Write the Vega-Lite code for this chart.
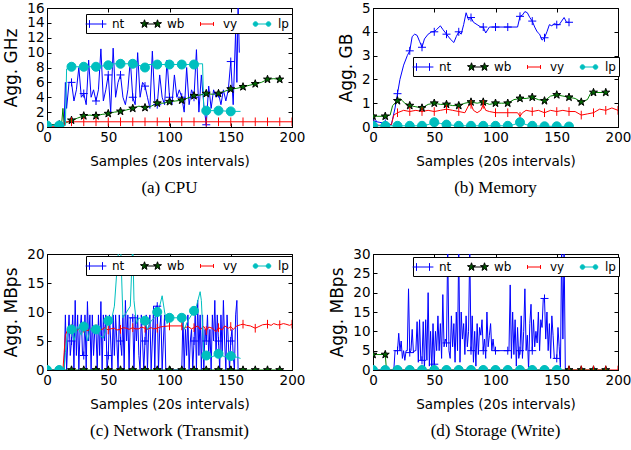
{
"$schema":"https://vega.github.io/schema/vega-lite/v6.json",
"padding":{"left":2,"top":0,"right":0,"bottom":5},
"background":"white",
"config":{
 "font":"DejaVu Sans",
 "view":{"stroke":"black","strokeWidth":1},
 "axis":{"labelFont":"DejaVu Sans","labelFontSize":13.5,"titleFont":"DejaVu Sans","titleFontSize":13.5,"titleFontWeight":"normal","labelColor":"#000","titleColor":"#000","domainColor":"#000","tickColor":"#000","tickSize":-4,"labelPadding":7,"grid":false,"labelFlush":false,"labelOverlap":false},
 "axisX":{"titlePadding":11},
 "axisY":{"titlePadding":6,"titleFontSize":17},
 "title":{"font":"Liberation Serif","fontSize":17,"fontWeight":"normal","color":"#000","orient":"bottom","offset":12,"anchor":"middle"},
 "legend":{"orient":"none","direction":"horizontal","columns":4,"strokeColor":"black","fillColor":"white","padding":3,"labelFont":"DejaVu Sans","labelFontSize":12,"labelColor":"#000","symbolSize":169,"symbolStrokeWidth":1,"labelOffset":9,"columnPadding":13,"title":null}
},
"datasets":{
"cpu":[
{"s":"nt","x":0,"y":0.3},{"s":"nt","x":5,"y":0.3},{"s":"nt","x":10,"y":0.3},{"s":"nt","x":14,"y":0.3},{"s":"nt","x":15,"y":6},{"s":"nt","x":16,"y":2.5},{"s":"nt","x":18,"y":6},{"s":"nt","x":20,"y":6},{"s":"nt","x":22,"y":3.5},{"s":"nt","x":24,"y":5},{"s":"nt","x":26,"y":8},{"s":"nt","x":28,"y":4},{"s":"nt","x":30,"y":4.5},{"s":"nt","x":32,"y":3},{"s":"nt","x":34,"y":9},{"s":"nt","x":36,"y":4},{"s":"nt","x":38,"y":5},{"s":"nt","x":40,"y":3.5},{"s":"nt","x":42,"y":5},{"s":"nt","x":44,"y":10.5},{"s":"nt","x":46,"y":3.5},{"s":"nt","x":48,"y":5},{"s":"nt","x":50,"y":7},{"s":"nt","x":52,"y":2},{"s":"nt","x":54,"y":10.6},{"s":"nt","x":56,"y":4},{"s":"nt","x":58,"y":6},{"s":"nt","x":60,"y":7},{"s":"nt","x":62,"y":4},{"s":"nt","x":64,"y":3},{"s":"nt","x":66,"y":5},{"s":"nt","x":68,"y":9},{"s":"nt","x":70,"y":4},{"s":"nt","x":72,"y":3},{"s":"nt","x":74,"y":10},{"s":"nt","x":76,"y":4},{"s":"nt","x":78,"y":6},{"s":"nt","x":80,"y":5.5},{"s":"nt","x":82,"y":4},{"s":"nt","x":84,"y":2.5},{"s":"nt","x":86,"y":10.2},{"s":"nt","x":88,"y":3.5},{"s":"nt","x":90,"y":3},{"s":"nt","x":92,"y":7},{"s":"nt","x":94,"y":4},{"s":"nt","x":96,"y":3},{"s":"nt","x":98,"y":9},{"s":"nt","x":100,"y":4},{"s":"nt","x":102,"y":3},{"s":"nt","x":104,"y":7},{"s":"nt","x":106,"y":4},{"s":"nt","x":108,"y":5},{"s":"nt","x":110,"y":4},{"s":"nt","x":112,"y":2},{"s":"nt","x":114,"y":8},{"s":"nt","x":116,"y":3},{"s":"nt","x":118,"y":5},{"s":"nt","x":120,"y":4},{"s":"nt","x":122,"y":10.4},{"s":"nt","x":124,"y":2},{"s":"nt","x":126,"y":7},{"s":"nt","x":128,"y":3},{"s":"nt","x":130,"y":0.3},{"s":"nt","x":132,"y":5.5},{"s":"nt","x":134,"y":2.5},{"s":"nt","x":136,"y":5},{"s":"nt","x":138,"y":4},{"s":"nt","x":140,"y":4.5},{"s":"nt","x":142,"y":3},{"s":"nt","x":144,"y":5},{"s":"nt","x":146,"y":3.5},{"s":"nt","x":148,"y":5},{"s":"nt","x":150,"y":8.8},{"s":"nt","x":152,"y":3},{"s":"nt","x":154,"y":13},{"s":"nt","x":155,"y":6},{"s":"nt","x":156,"y":16.5},{"s":"nt","x":157,"y":10},
{"s":"wb","x":0,"y":0.3},{"s":"wb","x":5,"y":0.3},{"s":"wb","x":10,"y":0.3},{"s":"wb","x":12,"y":0.5},{"s":"wb","x":13,"y":2.5},{"s":"wb","x":14,"y":0.4},{"s":"wb","x":16,"y":0.6},{"s":"wb","x":20,"y":0.9},{"s":"wb","x":25,"y":1.2},{"s":"wb","x":30,"y":1.5},{"s":"wb","x":35,"y":1.6},{"s":"wb","x":40,"y":1.5},{"s":"wb","x":45,"y":1.7},{"s":"wb","x":50,"y":1.8},{"s":"wb","x":55,"y":2.0},{"s":"wb","x":60,"y":2.1},{"s":"wb","x":65,"y":2.3},{"s":"wb","x":70,"y":2.5},{"s":"wb","x":75,"y":2.8},{"s":"wb","x":80,"y":2.6},{"s":"wb","x":85,"y":2.8},{"s":"wb","x":90,"y":3.2},{"s":"wb","x":95,"y":3.2},{"s":"wb","x":100,"y":3.4},{"s":"wb","x":105,"y":3.5},{"s":"wb","x":110,"y":3.6},{"s":"wb","x":115,"y":3.9},{"s":"wb","x":120,"y":4.2},{"s":"wb","x":125,"y":4.3},{"s":"wb","x":130,"y":4.5},{"s":"wb","x":135,"y":4.4},{"s":"wb","x":140,"y":4.5},{"s":"wb","x":145,"y":4.8},{"s":"wb","x":150,"y":5.1},{"s":"wb","x":155,"y":5.2},{"s":"wb","x":160,"y":5.4},{"s":"wb","x":165,"y":5.6},{"s":"wb","x":170,"y":5.8},{"s":"wb","x":175,"y":6.0},{"s":"wb","x":180,"y":6.4},{"s":"wb","x":185,"y":6.5},{"s":"wb","x":190,"y":6.4},
{"s":"vy","x":0,"y":0.1},{"s":"vy","x":10,"y":0.1},{"s":"vy","x":14,"y":0.1},{"s":"vy","x":15,"y":0.7},{"s":"vy","x":20,"y":0.7},{"s":"vy","x":30,"y":0.7},{"s":"vy","x":40,"y":0.7},{"s":"vy","x":50,"y":0.7},{"s":"vy","x":60,"y":0.7},{"s":"vy","x":70,"y":0.7},{"s":"vy","x":80,"y":0.7},{"s":"vy","x":90,"y":0.7},{"s":"vy","x":100,"y":0.7},{"s":"vy","x":110,"y":0.7},{"s":"vy","x":120,"y":0.7},{"s":"vy","x":130,"y":0.7},{"s":"vy","x":140,"y":0.7},{"s":"vy","x":150,"y":0.7},{"s":"vy","x":160,"y":0.7},{"s":"vy","x":170,"y":0.7},{"s":"vy","x":180,"y":0.7},{"s":"vy","x":190,"y":0.7},{"s":"vy","x":200,"y":0.7},
{"s":"lp","x":0,"y":0.2},{"s":"lp","x":10,"y":0.2},{"s":"lp","x":15,"y":0.2},{"s":"lp","x":16,"y":7.8},{"s":"lp","x":20,"y":8.1},{"s":"lp","x":30,"y":8.1},{"s":"lp","x":40,"y":8.1},{"s":"lp","x":50,"y":8.3},{"s":"lp","x":55,"y":8.5},{"s":"lp","x":60,"y":8.5},{"s":"lp","x":70,"y":8.5},{"s":"lp","x":75,"y":8.3},{"s":"lp","x":80,"y":8.0},{"s":"lp","x":82,"y":8.4},{"s":"lp","x":90,"y":8.4},{"s":"lp","x":100,"y":8.4},{"s":"lp","x":110,"y":8.4},{"s":"lp","x":120,"y":8.4},{"s":"lp","x":125,"y":8.5},{"s":"lp","x":127,"y":8.5},{"s":"lp","x":128,"y":2.1},{"s":"lp","x":130,"y":2.2},{"s":"lp","x":140,"y":2.2},{"s":"lp","x":150,"y":2.1},{"s":"lp","x":158,"y":2.1}
],
"mem":[
{"s":"nt","x":0,"y":0.25},{"s":"nt","x":5,"y":0.2},{"s":"nt","x":10,"y":0.15},{"s":"nt","x":15,"y":0.1},{"s":"nt","x":18,"y":0.8},{"s":"nt","x":20,"y":1.4},{"s":"nt","x":22,"y":2.0},{"s":"nt","x":25,"y":2.6},{"s":"nt","x":28,"y":3.0},{"s":"nt","x":30,"y":3.2},{"s":"nt","x":32,"y":3.8},{"s":"nt","x":34,"y":3.9},{"s":"nt","x":36,"y":3.85},{"s":"nt","x":38,"y":3.6},{"s":"nt","x":40,"y":3.35},{"s":"nt","x":42,"y":3.7},{"s":"nt","x":45,"y":3.9},{"s":"nt","x":48,"y":4.0},{"s":"nt","x":50,"y":4.0},{"s":"nt","x":52,"y":4.1},{"s":"nt","x":55,"y":4.25},{"s":"nt","x":57,"y":4.1},{"s":"nt","x":60,"y":3.9},{"s":"nt","x":63,"y":3.7},{"s":"nt","x":66,"y":3.55},{"s":"nt","x":68,"y":3.8},{"s":"nt","x":70,"y":4.0},{"s":"nt","x":72,"y":3.9},{"s":"nt","x":74,"y":4.3},{"s":"nt","x":76,"y":4.8},{"s":"nt","x":78,"y":4.5},{"s":"nt","x":80,"y":4.6},{"s":"nt","x":82,"y":4.4},{"s":"nt","x":85,"y":4.3},{"s":"nt","x":88,"y":4.2},{"s":"nt","x":90,"y":4.2},{"s":"nt","x":92,"y":3.95},{"s":"nt","x":95,"y":4.2},{"s":"nt","x":100,"y":4.2},{"s":"nt","x":110,"y":4.2},{"s":"nt","x":118,"y":4.2},{"s":"nt","x":120,"y":4.65},{"s":"nt","x":122,"y":4.7},{"s":"nt","x":124,"y":4.85},{"s":"nt","x":126,"y":4.8},{"s":"nt","x":128,"y":4.6},{"s":"nt","x":130,"y":4.45},{"s":"nt","x":132,"y":4.2},{"s":"nt","x":134,"y":4.0},{"s":"nt","x":136,"y":3.9},{"s":"nt","x":138,"y":3.65},{"s":"nt","x":140,"y":3.75},{"s":"nt","x":142,"y":4.0},{"s":"nt","x":144,"y":4.3},{"s":"nt","x":146,"y":4.25},{"s":"nt","x":148,"y":4.35},{"s":"nt","x":150,"y":4.3},{"s":"nt","x":152,"y":4.3},{"s":"nt","x":154,"y":4.45},{"s":"nt","x":156,"y":4.6},{"s":"nt","x":158,"y":4.4},{"s":"nt","x":160,"y":4.4},
{"s":"wb","x":0,"y":0.45},{"s":"wb","x":10,"y":0.45},{"s":"wb","x":14,"y":0.5},{"s":"wb","x":16,"y":0.9},{"s":"wb","x":18,"y":1.0},{"s":"wb","x":20,"y":1.1},{"s":"wb","x":22,"y":1.2},{"s":"wb","x":24,"y":1.1},{"s":"wb","x":26,"y":1.0},{"s":"wb","x":30,"y":0.9},{"s":"wb","x":35,"y":0.85},{"s":"wb","x":40,"y":0.8},{"s":"wb","x":45,"y":0.95},{"s":"wb","x":50,"y":1.0},{"s":"wb","x":55,"y":0.95},{"s":"wb","x":60,"y":0.95},{"s":"wb","x":65,"y":0.9},{"s":"wb","x":70,"y":0.9},{"s":"wb","x":75,"y":1.0},{"s":"wb","x":80,"y":1.05},{"s":"wb","x":85,"y":1.0},{"s":"wb","x":90,"y":1.05},{"s":"wb","x":95,"y":0.95},{"s":"wb","x":100,"y":1.0},{"s":"wb","x":105,"y":1.0},{"s":"wb","x":110,"y":1.0},{"s":"wb","x":115,"y":1.15},{"s":"wb","x":120,"y":1.2},{"s":"wb","x":125,"y":1.2},{"s":"wb","x":130,"y":1.25},{"s":"wb","x":135,"y":1.15},{"s":"wb","x":140,"y":1.1},{"s":"wb","x":145,"y":1.3},{"s":"wb","x":150,"y":1.35},{"s":"wb","x":155,"y":1.3},{"s":"wb","x":160,"y":1.25},{"s":"wb","x":165,"y":1.2},{"s":"wb","x":170,"y":1.05},{"s":"wb","x":175,"y":1.15},{"s":"wb","x":178,"y":1.45},{"s":"wb","x":180,"y":1.45},{"s":"wb","x":190,"y":1.45},
{"s":"vy","x":0,"y":0.1},{"s":"vy","x":10,"y":0.05},{"s":"vy","x":15,"y":0.1},{"s":"vy","x":17,"y":0.5},{"s":"vy","x":20,"y":0.6},{"s":"vy","x":25,"y":0.7},{"s":"vy","x":30,"y":0.65},{"s":"vy","x":35,"y":0.7},{"s":"vy","x":40,"y":0.65},{"s":"vy","x":45,"y":0.7},{"s":"vy","x":50,"y":0.65},{"s":"vy","x":55,"y":0.7},{"s":"vy","x":60,"y":0.75},{"s":"vy","x":65,"y":0.7},{"s":"vy","x":70,"y":0.65},{"s":"vy","x":75,"y":0.6},{"s":"vy","x":78,"y":0.9},{"s":"vy","x":80,"y":0.95},{"s":"vy","x":82,"y":0.7},{"s":"vy","x":85,"y":0.6},{"s":"vy","x":88,"y":0.7},{"s":"vy","x":90,"y":0.95},{"s":"vy","x":92,"y":0.7},{"s":"vy","x":95,"y":0.65},{"s":"vy","x":100,"y":0.6},{"s":"vy","x":110,"y":0.6},{"s":"vy","x":118,"y":0.6},{"s":"vy","x":120,"y":0.45},{"s":"vy","x":122,"y":0.6},{"s":"vy","x":125,"y":0.7},{"s":"vy","x":130,"y":0.65},{"s":"vy","x":135,"y":0.7},{"s":"vy","x":140,"y":0.6},{"s":"vy","x":145,"y":0.7},{"s":"vy","x":150,"y":0.65},{"s":"vy","x":155,"y":0.7},{"s":"vy","x":160,"y":0.65},{"s":"vy","x":165,"y":0.65},{"s":"vy","x":170,"y":0.5},{"s":"vy","x":175,"y":0.55},{"s":"vy","x":180,"y":0.6},{"s":"vy","x":185,"y":0.75},{"s":"vy","x":190,"y":0.7},{"s":"vy","x":195,"y":0.8},{"s":"vy","x":200,"y":0.7},
{"s":"lp","x":0,"y":0.05},{"s":"lp","x":10,"y":0.05},{"s":"lp","x":20,"y":0.05},{"s":"lp","x":30,"y":0.05},{"s":"lp","x":40,"y":0.05},{"s":"lp","x":45,"y":0.1},{"s":"lp","x":50,"y":0.2},{"s":"lp","x":55,"y":0.15},{"s":"lp","x":60,"y":0.1},{"s":"lp","x":70,"y":0.05},{"s":"lp","x":80,"y":0.05},{"s":"lp","x":90,"y":0.05},{"s":"lp","x":100,"y":0.05},{"s":"lp","x":110,"y":0.05},{"s":"lp","x":115,"y":0.1},{"s":"lp","x":120,"y":0.2},{"s":"lp","x":125,"y":0.1},{"s":"lp","x":130,"y":0.05},{"s":"lp","x":140,"y":0.03},{"s":"lp","x":150,"y":0.03},{"s":"lp","x":160,"y":0.02}
],
"net":[
{"s":"nt","x":0,"y":0},{"s":"nt","x":10,"y":0},{"s":"nt","x":14,"y":0},{"s":"nt","x":15,"y":9.5},{"s":"nt","x":16,"y":0},{"s":"nt","x":17,"y":5},{"s":"nt","x":18,"y":9.5},{"s":"nt","x":19,"y":2.5},{"s":"nt","x":20,"y":5},{"s":"nt","x":21,"y":9.5},{"s":"nt","x":22,"y":0},{"s":"nt","x":23,"y":12},{"s":"nt","x":24,"y":2.5},{"s":"nt","x":25,"y":9.5},{"s":"nt","x":26,"y":0},{"s":"nt","x":27,"y":7},{"s":"nt","x":28,"y":9.5},{"s":"nt","x":29,"y":2.5},{"s":"nt","x":30,"y":2.5},{"s":"nt","x":31,"y":9.5},{"s":"nt","x":32,"y":0},{"s":"nt","x":33,"y":11.8},{"s":"nt","x":34,"y":5},{"s":"nt","x":35,"y":9.5},{"s":"nt","x":36,"y":0},{"s":"nt","x":37,"y":9.5},{"s":"nt","x":38,"y":2.5},{"s":"nt","x":39,"y":7},{"s":"nt","x":40,"y":7},{"s":"nt","x":41,"y":0},{"s":"nt","x":42,"y":9.5},{"s":"nt","x":43,"y":2.5},{"s":"nt","x":44,"y":11.8},{"s":"nt","x":45,"y":0},{"s":"nt","x":46,"y":9.5},{"s":"nt","x":47,"y":5},{"s":"nt","x":48,"y":9.5},{"s":"nt","x":49,"y":0},{"s":"nt","x":50,"y":2.5},{"s":"nt","x":51,"y":9.5},{"s":"nt","x":52,"y":5},{"s":"nt","x":53,"y":0},{"s":"nt","x":54,"y":9.5},{"s":"nt","x":55,"y":2.5},{"s":"nt","x":56,"y":9.5},{"s":"nt","x":57,"y":5},{"s":"nt","x":58,"y":0},{"s":"nt","x":59,"y":9.5},{"s":"nt","x":60,"y":5},{"s":"nt","x":61,"y":2.5},{"s":"nt","x":62,"y":9.5},{"s":"nt","x":63,"y":0},{"s":"nt","x":64,"y":12},{"s":"nt","x":65,"y":5},{"s":"nt","x":66,"y":9.5},{"s":"nt","x":67,"y":0},{"s":"nt","x":68,"y":9},{"s":"nt","x":69,"y":9},{"s":"nt","x":70,"y":9},{"s":"nt","x":71,"y":0},{"s":"nt","x":72,"y":9.5},{"s":"nt","x":73,"y":5},{"s":"nt","x":74,"y":9.5},{"s":"nt","x":75,"y":2.5},{"s":"nt","x":76,"y":0},{"s":"nt","x":77,"y":9.5},{"s":"nt","x":78,"y":5},{"s":"nt","x":79,"y":0},{"s":"nt","x":80,"y":5},{"s":"nt","x":81,"y":9.5},{"s":"nt","x":82,"y":0},{"s":"nt","x":83,"y":7},{"s":"nt","x":84,"y":9.5},{"s":"nt","x":85,"y":0},{"s":"nt","x":86,"y":5},{"s":"nt","x":87,"y":11},{"s":"nt","x":88,"y":0},{"s":"nt","x":89,"y":11},{"s":"nt","x":90,"y":11},{"s":"nt","x":91,"y":0},{"s":"nt","x":92,"y":7},{"s":"nt","x":93,"y":9.5},{"s":"nt","x":94,"y":0},{"s":"nt","x":95,"y":5},{"s":"nt","x":96,"y":9.5},{"s":"nt","x":97,"y":0},{"s":"nt","x":100,"y":0},{"s":"nt","x":110,"y":0},{"s":"nt","x":111,"y":9.5},{"s":"nt","x":112,"y":0},{"s":"nt","x":113,"y":7},{"s":"nt","x":114,"y":2.5},{"s":"nt","x":115,"y":9.5},{"s":"nt","x":116,"y":0},{"s":"nt","x":117,"y":5},{"s":"nt","x":118,"y":7},{"s":"nt","x":119,"y":0},{"s":"nt","x":120,"y":5},{"s":"nt","x":121,"y":9.5},{"s":"nt","x":122,"y":0},{"s":"nt","x":123,"y":12},{"s":"nt","x":124,"y":2.5},{"s":"nt","x":125,"y":9.5},{"s":"nt","x":126,"y":0},{"s":"nt","x":127,"y":9.5},{"s":"nt","x":128,"y":0},{"s":"nt","x":129,"y":7},{"s":"nt","x":130,"y":5},{"s":"nt","x":131,"y":9.5},{"s":"nt","x":132,"y":2.5},{"s":"nt","x":133,"y":7},{"s":"nt","x":134,"y":0},{"s":"nt","x":135,"y":9.5},{"s":"nt","x":136,"y":5},{"s":"nt","x":137,"y":12},{"s":"nt","x":138,"y":2.5},{"s":"nt","x":139,"y":9.5},{"s":"nt","x":140,"y":5},{"s":"nt","x":141,"y":0},{"s":"nt","x":142,"y":9.5},{"s":"nt","x":143,"y":2.5},{"s":"nt","x":144,"y":12},{"s":"nt","x":145,"y":5},{"s":"nt","x":146,"y":0},{"s":"nt","x":147,"y":9.5},{"s":"nt","x":148,"y":5},{"s":"nt","x":149,"y":0},{"s":"nt","x":150,"y":5},{"s":"nt","x":151,"y":7},{"s":"nt","x":152,"y":2.5},{"s":"nt","x":153,"y":0},{"s":"nt","x":154,"y":9.5},{"s":"nt","x":155,"y":12},{"s":"nt","x":156,"y":0},{"s":"nt","x":157,"y":0},
{"s":"wb","x":0,"y":0},{"s":"wb","x":10,"y":0},{"s":"wb","x":20,"y":0},{"s":"wb","x":30,"y":0},{"s":"wb","x":40,"y":0},{"s":"wb","x":50,"y":0},{"s":"wb","x":60,"y":0},{"s":"wb","x":70,"y":0},{"s":"wb","x":80,"y":0},{"s":"wb","x":90,"y":0},{"s":"wb","x":100,"y":0},{"s":"wb","x":110,"y":0},{"s":"wb","x":120,"y":0},{"s":"wb","x":130,"y":0},{"s":"wb","x":140,"y":0},{"s":"wb","x":150,"y":0},{"s":"wb","x":160,"y":0},{"s":"wb","x":170,"y":0},{"s":"wb","x":180,"y":0},{"s":"wb","x":190,"y":0},
{"s":"vy","x":0,"y":0},{"s":"vy","x":10,"y":0},{"s":"vy","x":13,"y":0},{"s":"vy","x":14,"y":3},{"s":"vy","x":15,"y":6},{"s":"vy","x":17,"y":7},{"s":"vy","x":20,"y":7.1},{"s":"vy","x":22,"y":6.8},{"s":"vy","x":25,"y":6.9},{"s":"vy","x":27,"y":7.2},{"s":"vy","x":30,"y":7.2},{"s":"vy","x":32,"y":6.8},{"s":"vy","x":35,"y":6.9},{"s":"vy","x":37,"y":7.2},{"s":"vy","x":40,"y":7.1},{"s":"vy","x":42,"y":6.8},{"s":"vy","x":45,"y":7.0},{"s":"vy","x":47,"y":7.3},{"s":"vy","x":50,"y":6.9},{"s":"vy","x":52,"y":7.1},{"s":"vy","x":55,"y":7.2},{"s":"vy","x":57,"y":6.9},{"s":"vy","x":60,"y":7.0},{"s":"vy","x":62,"y":7.3},{"s":"vy","x":65,"y":7.2},{"s":"vy","x":67,"y":7.0},{"s":"vy","x":70,"y":7.3},{"s":"vy","x":72,"y":7.1},{"s":"vy","x":75,"y":7.1},{"s":"vy","x":77,"y":7.4},{"s":"vy","x":80,"y":7.2},{"s":"vy","x":82,"y":7.0},{"s":"vy","x":85,"y":7.3},{"s":"vy","x":87,"y":7.1},{"s":"vy","x":90,"y":7.2},{"s":"vy","x":92,"y":7.4},{"s":"vy","x":95,"y":7.5},{"s":"vy","x":100,"y":7.6},{"s":"vy","x":110,"y":7.6},{"s":"vy","x":112,"y":7.2},{"s":"vy","x":115,"y":7.5},{"s":"vy","x":118,"y":7.1},{"s":"vy","x":120,"y":7.3},{"s":"vy","x":123,"y":7.6},{"s":"vy","x":125,"y":7.0},{"s":"vy","x":128,"y":7.5},{"s":"vy","x":130,"y":6.8},{"s":"vy","x":132,"y":7.4},{"s":"vy","x":135,"y":7.2},{"s":"vy","x":138,"y":6.6},{"s":"vy","x":140,"y":7.3},{"s":"vy","x":143,"y":6.9},{"s":"vy","x":145,"y":7.6},{"s":"vy","x":148,"y":7.2},{"s":"vy","x":150,"y":7.5},{"s":"vy","x":152,"y":7.0},{"s":"vy","x":155,"y":7.6},{"s":"vy","x":158,"y":7.8},{"s":"vy","x":160,"y":7.9},{"s":"vy","x":163,"y":7.7},{"s":"vy","x":166,"y":7.6},{"s":"vy","x":170,"y":7.2},{"s":"vy","x":173,"y":7.5},{"s":"vy","x":176,"y":7.8},{"s":"vy","x":180,"y":7.9},{"s":"vy","x":183,"y":7.7},{"s":"vy","x":185,"y":8.0},{"s":"vy","x":188,"y":7.8},{"s":"vy","x":190,"y":7.8},{"s":"vy","x":193,"y":8.0},{"s":"vy","x":195,"y":7.9},{"s":"vy","x":198,"y":7.7},{"s":"vy","x":200,"y":7.9},
{"s":"lp","x":0,"y":0},{"s":"lp","x":10,"y":0},{"s":"lp","x":14,"y":0},{"s":"lp","x":15,"y":3},{"s":"lp","x":17,"y":7},{"s":"lp","x":20,"y":7},{"s":"lp","x":22,"y":5},{"s":"lp","x":25,"y":7.5},{"s":"lp","x":28,"y":6},{"s":"lp","x":30,"y":7.5},{"s":"lp","x":33,"y":5},{"s":"lp","x":35,"y":7},{"s":"lp","x":40,"y":7},{"s":"lp","x":43,"y":6},{"s":"lp","x":46,"y":5.5},{"s":"lp","x":50,"y":8.5},{"s":"lp","x":52,"y":8},{"s":"lp","x":55,"y":11},{"s":"lp","x":57,"y":17},{"s":"lp","x":59,"y":22},{"s":"lp","x":60,"y":22},{"s":"lp","x":62,"y":9},{"s":"lp","x":65,"y":10},{"s":"lp","x":68,"y":11},{"s":"lp","x":70,"y":22},{"s":"lp","x":71,"y":12},{"s":"lp","x":73,"y":8},{"s":"lp","x":75,"y":9},{"s":"lp","x":78,"y":8.5},{"s":"lp","x":80,"y":8.5},{"s":"lp","x":82,"y":7},{"s":"lp","x":85,"y":8.5},{"s":"lp","x":88,"y":9},{"s":"lp","x":90,"y":10},{"s":"lp","x":92,"y":11},{"s":"lp","x":94,"y":12.8},{"s":"lp","x":96,"y":10},{"s":"lp","x":98,"y":8},{"s":"lp","x":100,"y":9},{"s":"lp","x":110,"y":9},{"s":"lp","x":112,"y":7},{"s":"lp","x":115,"y":8.5},{"s":"lp","x":118,"y":9.5},{"s":"lp","x":120,"y":10.2},{"s":"lp","x":122,"y":11},{"s":"lp","x":125,"y":13.5},{"s":"lp","x":126,"y":12},{"s":"lp","x":128,"y":3},{"s":"lp","x":130,"y":2.5},{"s":"lp","x":135,"y":2.3},{"s":"lp","x":140,"y":2.8},{"s":"lp","x":145,"y":2.3},{"s":"lp","x":150,"y":2.4},{"s":"lp","x":155,"y":2.2},{"s":"lp","x":158,"y":2.0}
],
"sto":[
{"s":"nt","x":0,"y":0},{"s":"nt","x":10,"y":0},{"s":"nt","x":17,"y":0},{"s":"nt","x":18,"y":5},{"s":"nt","x":19,"y":5},{"s":"nt","x":20,"y":5},{"s":"nt","x":21,"y":9.5},{"s":"nt","x":22,"y":5},{"s":"nt","x":23,"y":7.5},{"s":"nt","x":24,"y":3},{"s":"nt","x":25,"y":5},{"s":"nt","x":26,"y":2.5},{"s":"nt","x":27,"y":5},{"s":"nt","x":28,"y":5},{"s":"nt","x":29,"y":21},{"s":"nt","x":30,"y":4.5},{"s":"nt","x":31,"y":5},{"s":"nt","x":32,"y":10.5},{"s":"nt","x":33,"y":4.5},{"s":"nt","x":34,"y":5},{"s":"nt","x":35,"y":5},{"s":"nt","x":36,"y":12.5},{"s":"nt","x":37,"y":2},{"s":"nt","x":38,"y":13},{"s":"nt","x":39,"y":2.5},{"s":"nt","x":40,"y":2.5},{"s":"nt","x":41,"y":12.5},{"s":"nt","x":42,"y":0},{"s":"nt","x":43,"y":13},{"s":"nt","x":44,"y":2.5},{"s":"nt","x":45,"y":20},{"s":"nt","x":46,"y":1},{"s":"nt","x":47,"y":10},{"s":"nt","x":48,"y":0},{"s":"nt","x":49,"y":12},{"s":"nt","x":50,"y":1.5},{"s":"nt","x":51,"y":10},{"s":"nt","x":52,"y":5},{"s":"nt","x":53,"y":14},{"s":"nt","x":54,"y":5},{"s":"nt","x":55,"y":12},{"s":"nt","x":56,"y":3},{"s":"nt","x":57,"y":19.5},{"s":"nt","x":58,"y":6},{"s":"nt","x":59,"y":8},{"s":"nt","x":60,"y":7},{"s":"nt","x":61,"y":32},{"s":"nt","x":62,"y":5},{"s":"nt","x":63,"y":3},{"s":"nt","x":64,"y":14},{"s":"nt","x":65,"y":6},{"s":"nt","x":66,"y":12},{"s":"nt","x":67,"y":2},{"s":"nt","x":68,"y":15},{"s":"nt","x":69,"y":5},{"s":"nt","x":70,"y":32},{"s":"nt","x":71,"y":2},{"s":"nt","x":72,"y":15},{"s":"nt","x":73,"y":8},{"s":"nt","x":74,"y":12},{"s":"nt","x":75,"y":4},{"s":"nt","x":76,"y":14},{"s":"nt","x":77,"y":6},{"s":"nt","x":78,"y":10},{"s":"nt","x":79,"y":32},{"s":"nt","x":80,"y":5},{"s":"nt","x":81,"y":14},{"s":"nt","x":82,"y":2},{"s":"nt","x":83,"y":10},{"s":"nt","x":84,"y":1},{"s":"nt","x":85,"y":12},{"s":"nt","x":86,"y":4},{"s":"nt","x":87,"y":11},{"s":"nt","x":88,"y":9},{"s":"nt","x":89,"y":13},{"s":"nt","x":90,"y":5},{"s":"nt","x":91,"y":8},{"s":"nt","x":92,"y":3},{"s":"nt","x":93,"y":15},{"s":"nt","x":94,"y":6},{"s":"nt","x":95,"y":9},{"s":"nt","x":96,"y":12},{"s":"nt","x":97,"y":5},{"s":"nt","x":98,"y":8},{"s":"nt","x":99,"y":5},{"s":"nt","x":100,"y":5},{"s":"nt","x":110,"y":5},{"s":"nt","x":111,"y":5},{"s":"nt","x":112,"y":22},{"s":"nt","x":113,"y":3},{"s":"nt","x":114,"y":15},{"s":"nt","x":115,"y":4},{"s":"nt","x":116,"y":13},{"s":"nt","x":117,"y":1},{"s":"nt","x":118,"y":11},{"s":"nt","x":119,"y":3},{"s":"nt","x":120,"y":5},{"s":"nt","x":121,"y":14},{"s":"nt","x":122,"y":3},{"s":"nt","x":123,"y":10},{"s":"nt","x":124,"y":21},{"s":"nt","x":125,"y":5},{"s":"nt","x":126,"y":9},{"s":"nt","x":127,"y":0},{"s":"nt","x":128,"y":12},{"s":"nt","x":129,"y":17},{"s":"nt","x":130,"y":5},{"s":"nt","x":131,"y":13},{"s":"nt","x":132,"y":6},{"s":"nt","x":133,"y":10},{"s":"nt","x":134,"y":7},{"s":"nt","x":135,"y":15},{"s":"nt","x":136,"y":5},{"s":"nt","x":137,"y":13},{"s":"nt","x":138,"y":11},{"s":"nt","x":139,"y":18.5},{"s":"nt","x":140,"y":18.5},{"s":"nt","x":141,"y":8},{"s":"nt","x":142,"y":15},{"s":"nt","x":143,"y":5},{"s":"nt","x":144,"y":12},{"s":"nt","x":145,"y":3},{"s":"nt","x":146,"y":14},{"s":"nt","x":147,"y":9},{"s":"nt","x":148,"y":3},{"s":"nt","x":149,"y":3},{"s":"nt","x":150,"y":3},{"s":"nt","x":151,"y":11},{"s":"nt","x":152,"y":6},{"s":"nt","x":153,"y":0},{"s":"nt","x":154,"y":32},{"s":"nt","x":155,"y":8},{"s":"nt","x":156,"y":32},{"s":"nt","x":157,"y":0},{"s":"nt","x":158,"y":0},
{"s":"wb","x":0,"y":4},{"s":"wb","x":10,"y":4},{"s":"wb","x":11,"y":0},{"s":"wb","x":20,"y":0},{"s":"wb","x":30,"y":0},{"s":"wb","x":40,"y":0},{"s":"wb","x":50,"y":0},{"s":"wb","x":60,"y":0},{"s":"wb","x":70,"y":0},{"s":"wb","x":80,"y":0},{"s":"wb","x":90,"y":0},{"s":"wb","x":100,"y":0},{"s":"wb","x":110,"y":0},{"s":"wb","x":120,"y":0},{"s":"wb","x":130,"y":0},{"s":"wb","x":140,"y":0},{"s":"wb","x":150,"y":0},{"s":"wb","x":160,"y":0},{"s":"wb","x":170,"y":0},{"s":"wb","x":180,"y":0},{"s":"wb","x":190,"y":0},
{"s":"vy","x":0,"y":0},{"s":"vy","x":10,"y":0},{"s":"vy","x":20,"y":0},{"s":"vy","x":30,"y":0},{"s":"vy","x":40,"y":0},{"s":"vy","x":50,"y":0},{"s":"vy","x":60,"y":0},{"s":"vy","x":70,"y":0},{"s":"vy","x":80,"y":0},{"s":"vy","x":90,"y":0},{"s":"vy","x":100,"y":0},{"s":"vy","x":110,"y":0},{"s":"vy","x":120,"y":0},{"s":"vy","x":130,"y":0},{"s":"vy","x":140,"y":0},{"s":"vy","x":150,"y":0},{"s":"vy","x":160,"y":0},{"s":"vy","x":170,"y":0},{"s":"vy","x":180,"y":0},{"s":"vy","x":190,"y":0},{"s":"vy","x":200,"y":0},
{"s":"lp","x":0,"y":0},{"s":"lp","x":10,"y":0},{"s":"lp","x":20,"y":0},{"s":"lp","x":30,"y":0},{"s":"lp","x":40,"y":0},{"s":"lp","x":50,"y":0},{"s":"lp","x":60,"y":0},{"s":"lp","x":70,"y":0},{"s":"lp","x":80,"y":0},{"s":"lp","x":90,"y":0},{"s":"lp","x":100,"y":0},{"s":"lp","x":110,"y":0},{"s":"lp","x":120,"y":0},{"s":"lp","x":130,"y":0},{"s":"lp","x":140,"y":0},{"s":"lp","x":150,"y":0},{"s":"lp","x":158,"y":0}
]
},
"columns":2,
"spacing":{"row":127,"column":81},
"bounds":"flush",
"concat":[
{"width":245,"height":119,"data":{"name":"cpu"},"title":"(a) CPU",
 "layer":[
  {"mark":{"type":"line","clip":true,"strokeWidth":1},
   "encoding":{
    "x":{"field":"x","type":"quantitative","scale":{"domain":[0,200]},"axis":{"title":"Samples (20s intervals)","values":[0,50,100,150,200]}},
    "y":{"field":"y","type":"quantitative","scale":{"domain":[0,16]},"axis":{"title":"Agg. GHz","values":[0,2,4,6,8,10,12,14,16]}},
    "color":{"field":"s","type":"nominal","scale":{"domain":["nt","wb","vy","lp"],"range":["#0000ff","#008000","#ff0000","#00bfbf"]},"legend":null}
   }},
  {"transform":[{"filter":"datum.x % 10 == 0"}],
   "mark":{"type":"point","clip":true,"filled":true,"strokeWidth":1,"opacity":1},
   "encoding":{
    "x":{"field":"x","type":"quantitative","axis":{"orient":"top","labels":false,"title":null,"domain":false,"values":[0,50,100,150,200]}},
    "y":{"field":"y","type":"quantitative","axis":{"orient":"right","labels":false,"title":null,"domain":false,"values":[0,2,4,6,8,10,12,14,16]}},
    "shape":{"field":"s","type":"nominal","scale":{"domain":["nt","wb","vy","lp"],"range":["M-1,0H1M0,-1V1","M0,-1L0.235,-0.324L0.951,-0.309L0.38,0.124L0.588,0.809L0,0.4L-0.588,0.809L-0.38,0.124L-0.951,-0.309L-0.235,-0.324Z","M0,-1V1","circle"]},"legend":null},
    "stroke":{"field":"s","type":"nominal","scale":{"domain":["nt","wb","vy","lp"],"range":["#0000ff","#000000","#ff0000","#00bfbf"]},"legend":null},
    "fill":{"field":"s","type":"nominal","scale":{"domain":["nt","wb","vy","lp"],"range":["transparent","#006400","#ff0000","#00bfbf"]},"legend":null},
    "size":{"field":"s","type":"nominal","scale":{"domain":["nt","wb","vy","lp"],"range":[64,81,16,10]},"legend":null}
   }},
  {"transform":[{"filter":"datum.x < 0"}],
   "mark":{"type":"point","filled":true,"strokeWidth":1,"opacity":1},
   "encoding":{
    "shape":{"field":"s","type":"nominal","scale":{"domain":["nt","wb","vy","lp"],"range":["M-1.6,0H1.6M-1,-0.6V0.6M1,-0.6V0.6","M-1,0H1M-1,-0.65L-0.847,-0.21L-0.382,-0.201L-0.753,0.08L-0.618,0.526L-1,0.26L-1.382,0.526L-1.247,0.08L-1.618,-0.201L-1.153,-0.21ZM1,-0.65L1.153,-0.21L1.618,-0.201L1.247,0.08L1.382,0.526L1,0.26L0.618,0.526L0.753,0.08L0.382,-0.201L0.847,-0.21Z","M-1,0H1M-1,-0.3V0.3M1,-0.3V0.3","M-1,0H1M-1.35,0A0.35,0.35 0 1,0 -0.65,0A0.35,0.35 0 1,0 -1.35,0ZM0.65,0A0.35,0.35 0 1,0 1.35,0A0.35,0.35 0 1,0 0.65,0Z"]},"legend":{"legendX":39,"legendY":6}},
    "stroke":{"field":"s","type":"nominal","scale":{"domain":["nt","wb","vy","lp"],"range":["#0000ff","#000000","#ff0000","#00bfbf"]}},
    "fill":{"field":"s","type":"nominal","scale":{"domain":["nt","wb","vy","lp"],"range":["transparent","#006400","#ff0000","#00bfbf"]}}
   }}
 ],
 "resolve":{"axis":{"x":"independent","y":"independent"},"scale":{"shape":"independent","stroke":"independent","fill":"independent"}}
},
{"width":245,"height":119,"data":{"name":"mem"},"title":"(b) Memory",
 "layer":[
  {"mark":{"type":"line","clip":true,"strokeWidth":1},
   "encoding":{
    "x":{"field":"x","type":"quantitative","scale":{"domain":[0,200]},"axis":{"title":"Samples (20s intervals)","values":[0,50,100,150,200]}},
    "y":{"field":"y","type":"quantitative","scale":{"domain":[0,5]},"axis":{"title":"Agg. GB","values":[0,1,2,3,4,5]}},
    "color":{"field":"s","type":"nominal","scale":{"domain":["nt","wb","vy","lp"],"range":["#0000ff","#008000","#ff0000","#00bfbf"]},"legend":null}
   }},
  {"transform":[{"filter":"datum.x % 10 == 0"}],
   "mark":{"type":"point","clip":true,"filled":true,"strokeWidth":1,"opacity":1},
   "encoding":{
    "x":{"field":"x","type":"quantitative","axis":{"orient":"top","labels":false,"title":null,"domain":false,"values":[0,50,100,150,200]}},
    "y":{"field":"y","type":"quantitative","axis":{"orient":"right","labels":false,"title":null,"domain":false,"values":[0,1,2,3,4,5]}},
    "shape":{"field":"s","type":"nominal","scale":{"domain":["nt","wb","vy","lp"],"range":["M-1,0H1M0,-1V1","M0,-1L0.235,-0.324L0.951,-0.309L0.38,0.124L0.588,0.809L0,0.4L-0.588,0.809L-0.38,0.124L-0.951,-0.309L-0.235,-0.324Z","M0,-1V1","circle"]},"legend":null},
    "stroke":{"field":"s","type":"nominal","scale":{"domain":["nt","wb","vy","lp"],"range":["#0000ff","#000000","#ff0000","#00bfbf"]},"legend":null},
    "fill":{"field":"s","type":"nominal","scale":{"domain":["nt","wb","vy","lp"],"range":["transparent","#006400","#ff0000","#00bfbf"]},"legend":null},
    "size":{"field":"s","type":"nominal","scale":{"domain":["nt","wb","vy","lp"],"range":[64,81,16,10]},"legend":null}
   }},
  {"transform":[{"filter":"datum.x < 0"}],
   "mark":{"type":"point","filled":true,"strokeWidth":1,"opacity":1},
   "encoding":{
    "shape":{"field":"s","type":"nominal","scale":{"domain":["nt","wb","vy","lp"],"range":["M-1.6,0H1.6M-1,-0.6V0.6M1,-0.6V0.6","M-1,0H1M-1,-0.65L-0.847,-0.21L-0.382,-0.201L-0.753,0.08L-0.618,0.526L-1,0.26L-1.382,0.526L-1.247,0.08L-1.618,-0.201L-1.153,-0.21ZM1,-0.65L1.153,-0.21L1.618,-0.201L1.247,0.08L1.382,0.526L1,0.26L0.618,0.526L0.753,0.08L0.382,-0.201L0.847,-0.21Z","M-1,0H1M-1,-0.3V0.3M1,-0.3V0.3","M-1,0H1M-1.35,0A0.35,0.35 0 1,0 -0.65,0A0.35,0.35 0 1,0 -1.35,0ZM0.65,0A0.35,0.35 0 1,0 1.35,0A0.35,0.35 0 1,0 0.65,0Z"]},"legend":{"legendX":40,"legendY":49}},
    "stroke":{"field":"s","type":"nominal","scale":{"domain":["nt","wb","vy","lp"],"range":["#0000ff","#000000","#ff0000","#00bfbf"]}},
    "fill":{"field":"s","type":"nominal","scale":{"domain":["nt","wb","vy","lp"],"range":["transparent","#006400","#ff0000","#00bfbf"]}}
   }}
 ],
 "resolve":{"axis":{"x":"independent","y":"independent"},"scale":{"shape":"independent","stroke":"independent","fill":"independent"}}
},
{"width":245,"height":116,"data":{"name":"net"},"title":"(c) Network (Transmit)",
 "layer":[
  {"mark":{"type":"line","clip":true,"strokeWidth":1},
   "encoding":{
    "x":{"field":"x","type":"quantitative","scale":{"domain":[0,200]},"axis":{"title":"Samples (20s intervals)","values":[0,50,100,150,200]}},
    "y":{"field":"y","type":"quantitative","scale":{"domain":[0,20]},"axis":{"title":"Agg. MBps","values":[0,5,10,15,20]}},
    "color":{"field":"s","type":"nominal","scale":{"domain":["nt","wb","vy","lp"],"range":["#0000ff","#008000","#ff0000","#00bfbf"]},"legend":null}
   }},
  {"transform":[{"filter":"datum.x % 10 == 0"}],
   "mark":{"type":"point","clip":true,"filled":true,"strokeWidth":1,"opacity":1},
   "encoding":{
    "x":{"field":"x","type":"quantitative","axis":{"orient":"top","labels":false,"title":null,"domain":false,"values":[0,50,100,150,200]}},
    "y":{"field":"y","type":"quantitative","axis":{"orient":"right","labels":false,"title":null,"domain":false,"values":[0,5,10,15,20]}},
    "shape":{"field":"s","type":"nominal","scale":{"domain":["nt","wb","vy","lp"],"range":["M-1,0H1M0,-1V1","M0,-1L0.235,-0.324L0.951,-0.309L0.38,0.124L0.588,0.809L0,0.4L-0.588,0.809L-0.38,0.124L-0.951,-0.309L-0.235,-0.324Z","M0,-1V1","circle"]},"legend":null},
    "stroke":{"field":"s","type":"nominal","scale":{"domain":["nt","wb","vy","lp"],"range":["#0000ff","#000000","#ff0000","#00bfbf"]},"legend":null},
    "fill":{"field":"s","type":"nominal","scale":{"domain":["nt","wb","vy","lp"],"range":["transparent","#006400","#ff0000","#00bfbf"]},"legend":null},
    "size":{"field":"s","type":"nominal","scale":{"domain":["nt","wb","vy","lp"],"range":[64,81,16,10]},"legend":null}
   }},
  {"transform":[{"filter":"datum.x < 0"}],
   "mark":{"type":"point","filled":true,"strokeWidth":1,"opacity":1},
   "encoding":{
    "shape":{"field":"s","type":"nominal","scale":{"domain":["nt","wb","vy","lp"],"range":["M-1.6,0H1.6M-1,-0.6V0.6M1,-0.6V0.6","M-1,0H1M-1,-0.65L-0.847,-0.21L-0.382,-0.201L-0.753,0.08L-0.618,0.526L-1,0.26L-1.382,0.526L-1.247,0.08L-1.618,-0.201L-1.153,-0.21ZM1,-0.65L1.153,-0.21L1.618,-0.201L1.247,0.08L1.382,0.526L1,0.26L0.618,0.526L0.753,0.08L0.382,-0.201L0.847,-0.21Z","M-1,0H1M-1,-0.3V0.3M1,-0.3V0.3","M-1,0H1M-1.35,0A0.35,0.35 0 1,0 -0.65,0A0.35,0.35 0 1,0 -1.35,0ZM0.65,0A0.35,0.35 0 1,0 1.35,0A0.35,0.35 0 1,0 0.65,0Z"]},"legend":{"legendX":39,"legendY":2}},
    "stroke":{"field":"s","type":"nominal","scale":{"domain":["nt","wb","vy","lp"],"range":["#0000ff","#000000","#ff0000","#00bfbf"]}},
    "fill":{"field":"s","type":"nominal","scale":{"domain":["nt","wb","vy","lp"],"range":["transparent","#006400","#ff0000","#00bfbf"]}}
   }}
 ],
 "resolve":{"axis":{"x":"independent","y":"independent"},"scale":{"shape":"independent","stroke":"independent","fill":"independent"}}
},
{"width":245,"height":116,"data":{"name":"sto"},"title":"(d) Storage (Write)",
 "layer":[
  {"mark":{"type":"line","clip":true,"strokeWidth":1},
   "encoding":{
    "x":{"field":"x","type":"quantitative","scale":{"domain":[0,200]},"axis":{"title":"Samples (20s intervals)","values":[0,50,100,150,200]}},
    "y":{"field":"y","type":"quantitative","scale":{"domain":[0,30]},"axis":{"title":"Agg. MBps","values":[0,5,10,15,20,25,30]}},
    "color":{"field":"s","type":"nominal","scale":{"domain":["nt","wb","vy","lp"],"range":["#0000ff","#008000","#ff0000","#00bfbf"]},"legend":null}
   }},
  {"transform":[{"filter":"datum.x % 10 == 0"}],
   "mark":{"type":"point","clip":true,"filled":true,"strokeWidth":1,"opacity":1},
   "encoding":{
    "x":{"field":"x","type":"quantitative","axis":{"orient":"top","labels":false,"title":null,"domain":false,"values":[0,50,100,150,200]}},
    "y":{"field":"y","type":"quantitative","axis":{"orient":"right","labels":false,"title":null,"domain":false,"values":[0,5,10,15,20,25,30]}},
    "shape":{"field":"s","type":"nominal","scale":{"domain":["nt","wb","vy","lp"],"range":["M-1,0H1M0,-1V1","M0,-1L0.235,-0.324L0.951,-0.309L0.38,0.124L0.588,0.809L0,0.4L-0.588,0.809L-0.38,0.124L-0.951,-0.309L-0.235,-0.324Z","M0,-1V1","circle"]},"legend":null},
    "stroke":{"field":"s","type":"nominal","scale":{"domain":["nt","wb","vy","lp"],"range":["#0000ff","#000000","#ff0000","#00bfbf"]},"legend":null},
    "fill":{"field":"s","type":"nominal","scale":{"domain":["nt","wb","vy","lp"],"range":["transparent","#006400","#ff0000","#00bfbf"]},"legend":null},
    "size":{"field":"s","type":"nominal","scale":{"domain":["nt","wb","vy","lp"],"range":[64,81,16,10]},"legend":null}
   }},
  {"transform":[{"filter":"datum.x < 0"}],
   "mark":{"type":"point","filled":true,"strokeWidth":1,"opacity":1},
   "encoding":{
    "shape":{"field":"s","type":"nominal","scale":{"domain":["nt","wb","vy","lp"],"range":["M-1.6,0H1.6M-1,-0.6V0.6M1,-0.6V0.6","M-1,0H1M-1,-0.65L-0.847,-0.21L-0.382,-0.201L-0.753,0.08L-0.618,0.526L-1,0.26L-1.382,0.526L-1.247,0.08L-1.618,-0.201L-1.153,-0.21ZM1,-0.65L1.153,-0.21L1.618,-0.201L1.247,0.08L1.382,0.526L1,0.26L0.618,0.526L0.753,0.08L0.382,-0.201L0.847,-0.21Z","M-1,0H1M-1,-0.3V0.3M1,-0.3V0.3","M-1,0H1M-1.35,0A0.35,0.35 0 1,0 -0.65,0A0.35,0.35 0 1,0 -1.35,0ZM0.65,0A0.35,0.35 0 1,0 1.35,0A0.35,0.35 0 1,0 0.65,0Z"]},"legend":{"legendX":40,"legendY":3}},
    "stroke":{"field":"s","type":"nominal","scale":{"domain":["nt","wb","vy","lp"],"range":["#0000ff","#000000","#ff0000","#00bfbf"]}},
    "fill":{"field":"s","type":"nominal","scale":{"domain":["nt","wb","vy","lp"],"range":["transparent","#006400","#ff0000","#00bfbf"]}}
   }}
 ],
 "resolve":{"axis":{"x":"independent","y":"independent"},"scale":{"shape":"independent","stroke":"independent","fill":"independent"}}
}
]
}
